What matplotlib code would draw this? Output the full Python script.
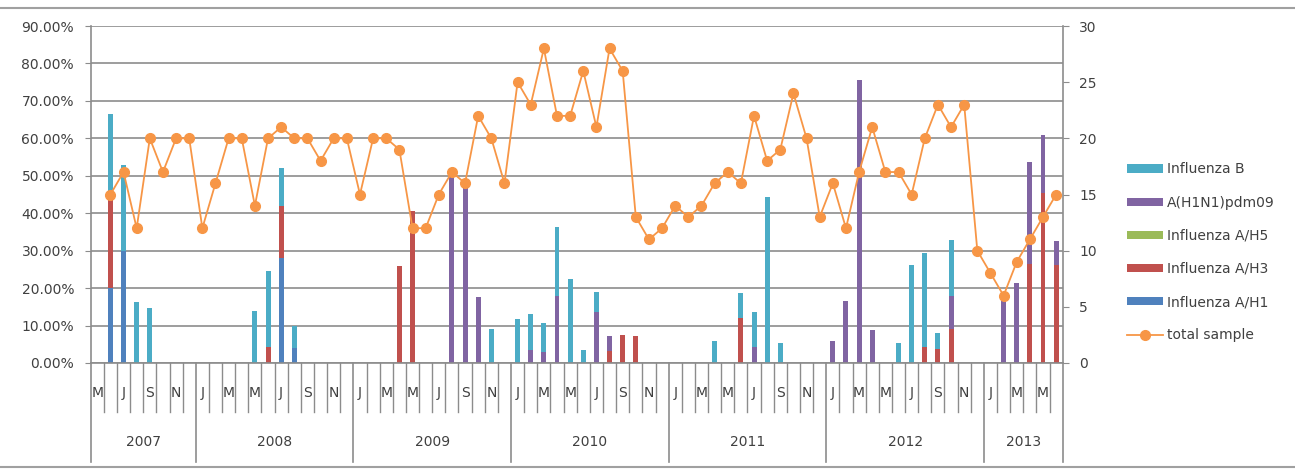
import numpy as np
import pandas as pd
import matplotlib
matplotlib.use("Agg")
import matplotlib.pyplot as plt
from matplotlib.ticker import PercentFormatter, MultipleLocator
from matplotlib.patches import Patch
from matplotlib.lines import Line2D

# ---------- data: monthly, May 2007 .. Jun 2013 ----------
months = pd.period_range("2007-05", "2013-06", freq="M")
years = ["2007", "2008", "2009", "2010", "2011", "2012", "2013"]

# positive share by subtype (%), one row per year
flu_a_h1 = (
    [0, 20, 30, 0, 0, 0, 0, 0]
    + [0, 0, 0, 0, 0, 0, 28, 4, 0, 0, 0, 0]
    + [0] * 12 + [0] * 12 + [0] * 12 + [0] * 12
    + [0, 0, 0, 0, 0, 0]
)
flu_a_h3 = (
    [0, 25, 0, 0, 0, 0, 0, 0]
    + [0, 0, 0, 0, 0, 4.3, 14, 0, 0, 0, 0, 0]
    + [0, 0, 0, 25.8, 40.6, 0, 0, 0, 0, 0, 0, 0]
    + [0, 0, 0, 0, 0, 0, 0, 3.3, 7.5, 7.2, 0, 0]
    + [0, 0, 0, 0, 0, 12, 0, 0, 0, 0, 0, 0]
    + [0, 0, 0, 0, 0, 0, 0, 4.2, 3.8, 9, 0, 0]
    + [0, 0, 0, 26.5, 45.3, 26.3]
)
flu_a_h5 = [0] * 74
h1n1_pdm09 = (
    [0, 0, 0, 0, 0, 0, 0, 0]
    + [0] * 12
    + [0, 0, 0, 0, 0, 0, 0, 52, 48.7, 17.7, 0, 0]
    + [0, 3.5, 3, 18, 0, 0, 13.6, 4, 0, 0, 0, 0]
    + [0, 0, 0, 0, 0, 0, 4.4, 0, 0, 0, 0, 0]
    + [6, 16.6, 75.7, 8.9, 0, 0, 0, 0, 0, 9, 0, 0]
    + [0, 16.7, 21.4, 27.3, 15.5, 6.2]
)
flu_b = (
    [0, 21.5, 23, 16.4, 14.8, 0, 0, 0]
    + [0, 0, 0, 0, 13.9, 20.2, 10, 6, 0, 0, 0, 0]
    + [0, 0, 0, 0, 0, 0, 0, 0, 0, 0, 9.2, 0]
    + [11.8, 9.5, 7.7, 18.4, 22.5, 3.6, 5.4, 0, 0, 0, 0, 0]
    + [0, 0, 0, 6, 0, 6.8, 9.3, 44.2, 5.3, 0, 0, 0]
    + [0, 0, 0, 0, 0, 5.3, 26.1, 25.3, 4.2, 14.8, 0, 0]
    + [0, 0, 0, 0, 0, 0]
)
total_sample = (
    [np.nan, 15, 17, 12, 20, 17, 20, 20]
    + [12, 16, 20, 20, 14, 20, 21, 20, 20, 18, 20, 20]
    + [15, 20, 20, 19, 12, 12, 15, 17, 16, 22, 20, 16]
    + [25, 23, 28, 22, 22, 26, 21, 28, 26, 13, 11, 12]
    + [14, 13, 14, 16, 17, 16, 22, 18, 19, 24, 20, 13]
    + [16, 12, 17, 21, 17, 17, 15, 20, 23, 21, 23, 10]
    + [8, 6, 9, 11, 13, 15]
)

# stacking order, bottom to top
series = [
    ("Influenza A/H1", flu_a_h1, "#4F81BD"),
    ("Influenza A/H3", flu_a_h3, "#C0504D"),
    ("Influenza A/H5", flu_a_h5, "#9BBB59"),
    ("A(H1N1)pdm09", h1n1_pdm09, "#8064A2"),
    ("Influenza B", flu_b, "#4BACC6"),
]
ORANGE = "#F79646"
GRID = "#8c8c8c"
TEXT = "#404040"

W, H = 1295, 471
fig = plt.figure(figsize=(W / 100, H / 100), dpi=100)
ax = fig.add_axes([90.7 / W, 108 / H, 972 / W, 337 / H])

x = np.arange(len(months))
bottom = np.zeros(len(months))
for name, vals, color in series:
    vals = np.asarray(vals, dtype=float)
    ax.bar(x, vals, width=0.38, bottom=bottom, color=color, linewidth=0, zorder=2)
    bottom += vals

ax.set_xlim(-0.5, len(months) - 0.5)
ax.set_ylim(0, 90)
ax.yaxis.set_major_locator(MultipleLocator(10))
ax.yaxis.set_major_formatter(PercentFormatter(xmax=100, decimals=2))
ax.grid(axis="y", color=GRID, linewidth=1.2)
ax.set_axisbelow(True)
ax.set_xticks([])
ax.tick_params(axis="y", length=4, color=GRID, labelcolor=TEXT, labelsize=10, pad=8)
for side in ["top", "right"]:
    ax.spines[side].set_visible(False)
ax.spines["left"].set_color(GRID)
ax.spines["bottom"].set_color(GRID)
ax.spines["left"].set_linewidth(1.2)
ax.spines["bottom"].set_linewidth(1.2)

# total samples on the secondary axis
ax2 = ax.twinx()
ax2.plot(x, total_sample, color=ORANGE, linewidth=1.3, marker="o",
         markersize=7, zorder=3)
ax2.set_ylim(0, 30)
ax2.yaxis.set_major_locator(MultipleLocator(5))
ax2.tick_params(axis="y", length=4, color=GRID, labelcolor=TEXT, labelsize=10, pad=8)
for side in ["top", "left", "bottom"]:
    ax2.spines[side].set_visible(False)
ax2.spines["right"].set_color(GRID)
ax2.spines["right"].set_linewidth(1.2)
ax2.set_xlim(ax.get_xlim())

# two-level category axis: month letters and years
tr = ax.get_xaxis_transform()
year_of = np.array([p.year for p in months])
for i, p in enumerate(months):
    if i > 0 and p.month != 1:
        ax.plot([i - 0.5, i - 0.5], [0, -0.145], color=GRID, lw=1,
                transform=tr, clip_on=False)
    if p.month % 2 == 1:
        ax.text(i, -0.089, p.strftime("%b")[0], transform=tr, ha="center",
                va="center", fontsize=10, color=TEXT)

edges = [-0.5]
for yr in years:
    idx = np.where(year_of == int(yr))[0]
    edges.append(idx[-1] + 0.5)
    ax.text((idx[0] + idx[-1]) / 2, -0.234, yr, transform=tr, ha="center",
            va="center", fontsize=10, color=TEXT)
for e in edges:
    ax.plot([e, e], [0, -0.293], color=GRID, lw=1.2, transform=tr, clip_on=False)

# legend on the right
handles = [Patch(facecolor=c, label=n) for n, _, c in reversed(series)]
handles.append(Line2D([], [], color=ORANGE, marker="o", markersize=7,
                      linewidth=1.3, label="total sample"))
fig.legend(handles=handles, loc="upper left", bbox_to_anchor=(1114 / W, 1 - 150 / H),
           frameon=False, fontsize=10, labelcolor=TEXT, handlelength=2.6,
           handleheight=0.55, handletextpad=0.3, labelspacing=1.38)

# chart border lines
fig.add_artist(Line2D([0, 1], [1 - 8 / H] * 2, color="#a0a0a0", lw=1.5))
fig.add_artist(Line2D([0, 1], [1 - 467 / H] * 2, color="#a0a0a0", lw=1.5))

fig.savefig("out.png", dpi=100, facecolor="white")
